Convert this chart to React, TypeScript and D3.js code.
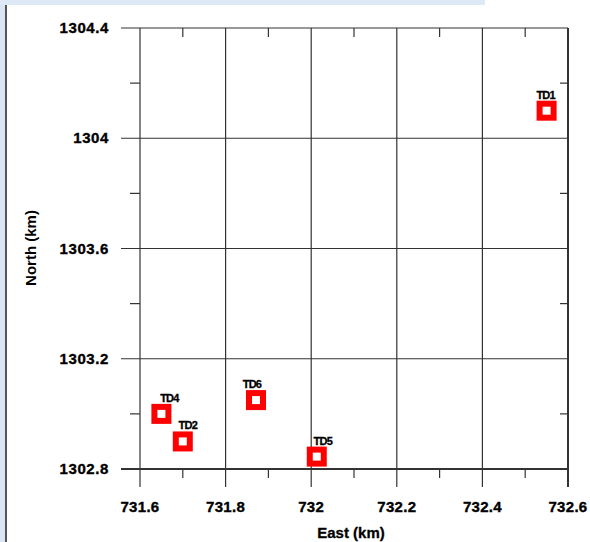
import React from "react";
import * as d3 from "d3";

const stations = ["TD1", "TD2", "TD4", "TD5", "TD6"];
const eastKm = [732.55, 731.7, 731.65, 732.013, 731.871];
const northKm = [1304.1, 1302.9, 1303.0, 1302.845, 1303.05];
const labelDx = [-1, 5, 8, 6, -4];

const xMajor = [731.6, 731.8, 732.0, 732.2, 732.4, 732.6];
const xMajorLabels = ["731.6", "731.8", "732", "732.2", "732.4", "732.6"];
const xMinor = [731.7, 731.9, 732.1, 732.3, 732.5];
const yMajor = [1302.8, 1303.2, 1303.6, 1304.0, 1304.4];
const yMajorLabels = ["1302.8", "1303.2", "1303.6", "1304", "1304.4"];
const yMinor = [1303.0, 1303.4, 1303.8, 1304.2];

export default function App() {
  const W = 590, H = 542;
  const L = 140, R = 568, T = 28, B = 469;
  const x = d3.scaleLinear().domain([731.6, 732.6]).range([L, R]);
  const y = d3.scaleLinear().domain([1302.8, 1304.4]).range([B, T]);
  const line = "#333";
  const font = "Arial, 'Liberation Sans', sans-serif";
  return (
    <svg width={W} height={H} style={{ position: "absolute", left: 0, top: 0, background: "#fff" }}>
      <rect x={0} y={0} width={W} height={H} fill="#fff" />
      <rect x={0} y={0} width={5} height={H} fill="#d9e7f4" />
      <rect x={0} y={0} width={485} height={5} fill="#dde9f5" />
      <rect x={5} y={5} width={2} height={H - 5} fill="#555" />

      {/* vertical gridlines */}
      {xMajor.map((v, i) => (
        <line key={"xg" + i} x1={x(v)} x2={x(v)} y1={T} y2={B + 18} stroke={line} strokeWidth={i === xMajor.length - 1 ? 2 : 1.2} />
      ))}
      {/* horizontal gridlines */}
      {yMajor.map((v, i) => (
        <line key={"yg" + i} x1={L - 19} x2={R} y1={y(v)} y2={y(v)} stroke={line} strokeWidth={i === 0 ? 2 : 1.2} />
      ))}
      {/* minor ticks */}
      {xMinor.map((v, i) => (
        <g key={"xm" + i}>
          <line x1={x(v)} x2={x(v)} y1={B} y2={B + 9} stroke={line} strokeWidth={1.2} />
          <line x1={x(v)} x2={x(v)} y1={T} y2={T + 9} stroke={line} strokeWidth={1.2} />
        </g>
      ))}
      {yMinor.map((v, i) => (
        <g key={"ym" + i}>
          <line x1={L - 10} x2={L} y1={y(v)} y2={y(v)} stroke={line} strokeWidth={1.2} />
          <line x1={R - 8} x2={R} y1={y(v)} y2={y(v)} stroke={line} strokeWidth={1.2} />
        </g>
      ))}

      {/* tick labels */}
      {yMajor.map((v, i) => (
        <text key={"yl" + i} x={109} y={y(v) + 5} textAnchor="end" fontFamily={font} fontWeight="bold" fontSize={15} letterSpacing={0.6} fill="#000" stroke="#000" strokeWidth={0.35}>
          {yMajorLabels[i]}
        </text>
      ))}
      {xMajor.map((v, i) => (
        <text key={"xl" + i} x={x(v)} y={512} textAnchor="middle" fontFamily={font} fontWeight="bold" fontSize={15} letterSpacing={0.3} fill="#000" stroke="#000" strokeWidth={0.35}>
          {xMajorLabels[i]}
        </text>
      ))}

      {/* axis titles */}
      <text x={351} y={538} textAnchor="middle" fontFamily={font} fontWeight="bold" fontSize={15} fill="#000" stroke="#000" strokeWidth={0.3}>
        East (km)
      </text>
      <text transform={`translate(36,248) rotate(-90)`} textAnchor="middle" fontFamily={font} fontWeight="bold" fontSize={15} fill="#000">
        North (km)
      </text>

      {/* stations */}
      {stations.map((s, i) => (
        <g key={s}>
          <rect x={x(eastKm[i]) - 7} y={y(northKm[i]) - 7} width={14} height={14} fill="#fff" stroke="#ff0000" strokeWidth={6} />
          <text x={x(eastKm[i]) + labelDx[i]} y={y(northKm[i]) - 12} textAnchor="middle" fontFamily={font} fontWeight="bold" fontSize={11} letterSpacing={-0.8} fill="#000" stroke="#000" strokeWidth={0.3}>
            {s}
          </text>
        </g>
      ))}
    </svg>
  );
}
